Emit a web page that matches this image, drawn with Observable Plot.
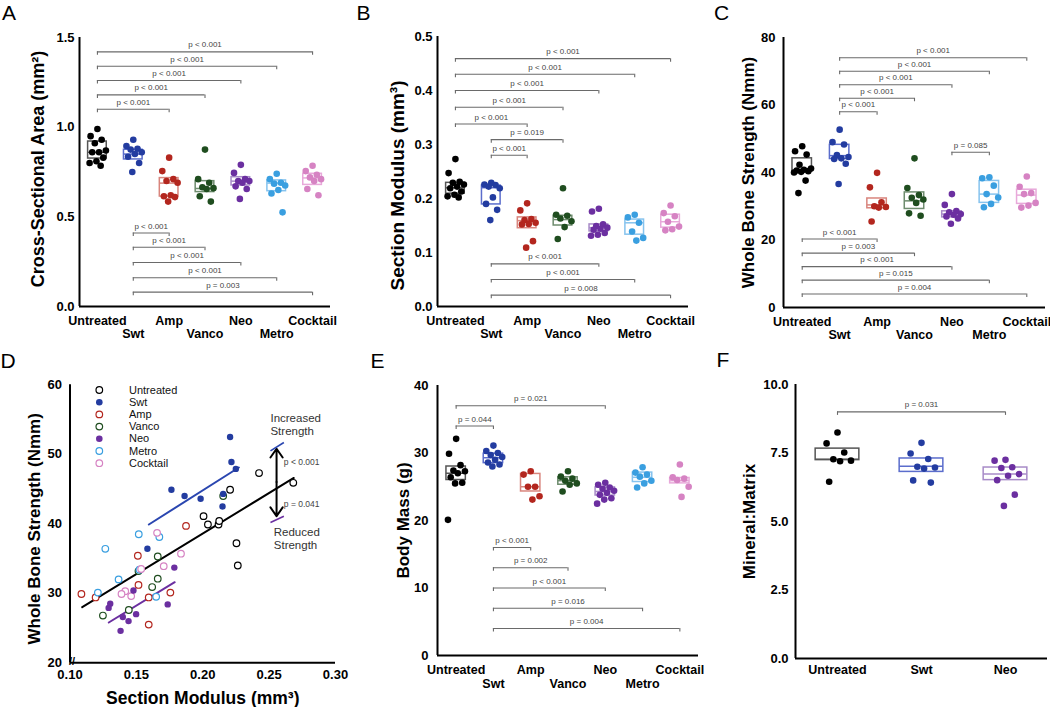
<!DOCTYPE html>
<html><head><meta charset="utf-8">
<script src="https://cdn.jsdelivr.net/npm/d3@7"></script>
<script src="https://cdn.jsdelivr.net/npm/@observablehq/plot@0.6"></script>
<style>
html,body{margin:0;padding:0;background:#fff;}
#fig{position:relative;width:1050px;height:707px;overflow:hidden;font-family:"Liberation Sans",Arial,sans-serif;}
.panel{position:absolute;}
.panel svg{overflow:visible !important;}
.letter{position:absolute;font-size:21px;line-height:21px;color:#000;}
</style></head><body><div id="fig"></div>
<script>
const FONT = '"Liberation Sans", Arial, sans-serif';
const groups = ["Untreated", "Swt", "Amp", "Vanco", "Neo", "Metro", "Cocktail"];
const dotColors = ["#000000", "#233ca0", "#b3261e", "#1f4d1f", "#6b2fa0", "#3a9fe0", "#d683c3"];
const boxColors = ["#555555", "#5b6dcc", "#d9857d", "#6e8c6e", "#a88bc8", "#86c3ee", "#e8a9da"];

// A: Cross-sectional area (mm^2)
const areaValues = [
  [0.99, 0.95, 0.93, 0.91, 0.87, 0.86, 0.86, 0.83, 0.81, 0.80, 0.785],
  [0.93, 0.895, 0.88, 0.875, 0.86, 0.85, 0.835, 0.80, 0.75],
  [0.83, 0.755, 0.71, 0.70, 0.69, 0.62, 0.615, 0.61, 0.585],
  [0.875, 0.71, 0.69, 0.665, 0.66, 0.655, 0.615, 0.585],
  [0.79, 0.745, 0.71, 0.70, 0.70, 0.69, 0.67, 0.655, 0.60],
  [0.74, 0.71, 0.69, 0.685, 0.675, 0.65, 0.63, 0.525],
  [0.785, 0.755, 0.735, 0.72, 0.71, 0.70, 0.655, 0.62]
];
const areaQ1 = [0.825, 0.82, 0.613, 0.638, 0.675, 0.643, 0.678];
const areaMedian = [0.86, 0.85, 0.688, 0.658, 0.699, 0.688, 0.717];
const areaQ3 = [0.92, 0.874, 0.716, 0.699, 0.721, 0.703, 0.74];
const areaBrackets = [
  [0, 6, 1.42, "p < 0.001"], [0, 5, 1.34, "p < 0.001"], [0, 4, 1.26, "p < 0.001"],
  [0, 3, 1.18, "p < 0.001"], [0, 2, 1.10, "p < 0.001"],
  [1, 2, 0.41, "p < 0.001"], [1, 3, 0.33, "p < 0.001"], [1, 4, 0.245, "p < 0.001"],
  [1, 5, 0.16, "p < 0.001"], [1, 6, 0.08, "p = 0.003"]
];

// B: Section modulus (mm^3)
const modulusValues = [
  [0.273, 0.247, 0.231, 0.229, 0.226, 0.222, 0.219, 0.213, 0.207, 0.204, 0.202],
  [0.229, 0.226, 0.225, 0.222, 0.219, 0.202, 0.19, 0.179, 0.16],
  [0.191, 0.178, 0.162, 0.16, 0.155, 0.153, 0.152, 0.121, 0.109],
  [0.219, 0.17, 0.168, 0.163, 0.158, 0.147, 0.125],
  [0.181, 0.176, 0.152, 0.149, 0.146, 0.144, 0.142, 0.136, 0.133, 0.131],
  [0.170, 0.165, 0.155, 0.139, 0.127, 0.122],
  [0.187, 0.173, 0.167, 0.157, 0.148, 0.143, 0.141]
];
const modulusQ1 = [0.209, 0.189, 0.145, 0.150, 0.139, 0.133, 0.146];
const modulusMedian = [0.22, 0.22, 0.159, 0.161, 0.146, 0.155, 0.157];
const modulusQ3 = [0.229, 0.224, 0.165, 0.168, 0.152, 0.161, 0.170];
const modulusBrackets = [
  [0, 6, 0.459, "p < 0.001"], [0, 5, 0.43, "p < 0.001"], [0, 4, 0.40, "p < 0.001"],
  [0, 3, 0.369, "p < 0.001"], [0, 2, 0.338, "p < 0.001"], [1, 3, 0.309, "p = 0.019"],
  [1, 2, 0.28, "p < 0.001"],
  [1, 4, 0.079, "p < 0.001"], [1, 5, 0.05, "p < 0.001"], [1, 6, 0.021, "p = 0.008"]
];

// C: Whole bone strength (Nmm)
const strengthValues = [
  [47.8, 46.3, 45.3, 42.3, 41.2, 40.8, 40.6, 40.4, 40.2, 40.0, 37.6, 33.9],
  [52.7, 49.0, 48.3, 45.2, 44.6, 44.2, 44.0, 42.6, 36.6],
  [39.9, 35.6, 31.2, 30.0, 29.8, 29.6, 25.5],
  [44.2, 35.4, 33.3, 32.5, 32.0, 31.0, 27.9, 27.2],
  [33.6, 30.4, 28.6, 28.2, 27.7, 27.5, 27.0, 26.4, 24.8],
  [38.6, 38.3, 36.1, 33.6, 32.6, 30.7, 29.7],
  [38.8, 35.8, 33.9, 33.6, 31.0, 30.2, 29.6]
];
const strengthQ1 = [40.2, 44.0, 29.4, 29.2, 26.7, 31.0, 30.7];
const strengthMedian = [40.6, 45.0, 30.4, 31.6, 27.7, 33.6, 33.3];
const strengthQ3 = [44.2, 48.2, 32.3, 34.1, 28.5, 37.5, 34.9];
const strengthBrackets = [
  [1, 6, 74, "p < 0.001"], [1, 5, 70, "p < 0.001"], [1, 4, 66, "p < 0.001"],
  [1, 3, 62, "p < 0.001"], [1, 2, 58, "p < 0.001"], [4, 5, 46, "p = 0.085"],
  [0, 2, 20.3, "p < 0.001"], [0, 3, 16.1, "p = 0.003"], [0, 4, 12.1, "p < 0.001"],
  [0, 5, 8.1, "p = 0.015"], [0, 6, 4.0, "p = 0.004"]
];

// D: strength vs section modulus
const scatterModulus = [
  [0.2424, 0.2682, 0.2206, 0.2006, 0.2039, 0.2119, 0.2124, 0.2254, 0.2264],
  [0.2206, 0.2216, 0.2249, 0.1764, 0.1863, 0.1984, 0.2154, 0.2149, 0.1583],
  [0.1874, 0.1511, 0.1516, 0.1086, 0.1193, 0.1593, 0.1756, 0.1593],
  [0.2154, 0.1661, 0.1516, 0.1661, 0.1619, 0.1443, 0.1248],
  [0.1786, 0.1478, 0.1303, 0.1291, 0.1736, 0.1398, 0.1441, 0.1498, 0.1381],
  [0.1518, 0.1673, 0.1266, 0.1523, 0.1366, 0.1210, 0.1649],
  [0.1656, 0.1836, 0.1706, 0.1536, 0.1416, 0.1388, 0.1461]
];
const scatterStrength = [
  [47.3, 45.9, 44.9, 41.1, 39.9, 39.9, 40.4, 37.2, 34.0],
  [52.5, 48.9, 47.9, 44.9, 44.0, 43.6, 44.3, 42.5, 36.4],
  [39.7, 35.4, 31.2, 29.9, 29.4, 29.4, 30.1, 25.5],
  [44.0, 35.3, 33.2, 32.1, 30.9, 27.6, 26.8],
  [33.7, 30.4, 28.5, 27.9, 28.4, 26.6, 26.0, 27.0, 24.6],
  [38.5, 38.1, 36.4, 33.4, 32.0, 30.1, 29.5],
  [38.7, 35.7, 33.9, 33.5, 30.3, 29.9, 29.6]
];
const fitUntreated = [[0.1092, 28.0], [0.2686, 46.6]];
const fitSwt = [[0.1594, 39.9], [0.2272, 48.1]];
const fitNeo = [[0.1292, 25.8], [0.1789, 31.6]];
const filledGroups = ["Swt", "Neo"];

// E: Body mass (g)
const massValues = [
  [32.1, 29.9, 28.2, 27.4, 27.3, 27.0, 26.4, 25.6, 25.5, 20.1],
  [31.1, 30.3, 30.0, 29.7, 29.4, 29.0, 28.6, 28.3, 28.0],
  [27.3, 26.8, 25.0, 25.0, 23.6, 23.1],
  [27.3, 26.5, 26.2, 25.9, 25.5, 25.3, 24.3],
  [25.6, 25.3, 24.9, 24.7, 24.4, 24.1, 23.8, 23.3, 23.1, 22.5],
  [27.9, 27.1, 26.8, 26.5, 25.9, 25.5, 24.9],
  [28.3, 26.4, 26.2, 26.0, 25.0, 23.5]
];
const massQ1 = [26.0, 28.5, 24.3, 25.3, 23.7, 25.7, 25.5];
const massMedian = [27.0, 29.3, 25.0, 25.9, 24.3, 26.4, 25.9];
const massQ3 = [28.0, 29.9, 26.9, 26.4, 24.9, 27.1, 26.3];
const massBrackets = [
  [0, 4, 37, "p = 0.021"], [0, 1, 34, "p = 0.044"],
  [1, 2, 16, "p < 0.001"], [1, 3, 13, "p = 0.002"], [1, 4, 10, "p < 0.001"],
  [1, 5, 7, "p = 0.016"], [1, 6, 4, "p = 0.004"]
];

// F: Mineral:Matrix
const mineralGroups = ["Untreated", "Swt", "Neo"];
const mineralValues = [
  [8.25, 7.85, 7.52, 7.27, 7.22, 7.2, 6.45],
  [7.87, 7.48, 7.28, 7.0, 6.97, 6.93, 6.5, 6.42],
  [7.25, 7.22, 6.98, 6.95, 6.73, 6.67, 6.51, 5.98, 5.57]
];
const mineralQ1 = [7.24, 6.81, 6.51];
const mineralMedian = [7.27, 7.02, 6.73];
const mineralQ3 = [7.66, 7.30, 6.97];
const mineralBrackets = [[0, 2, 9.0, "p = 0.031"]];

// ---------- drawing ----------
const fig = document.getElementById("fig");
function place(node, left, top) {
  const d = document.createElement("div");
  d.className = "panel";
  d.style.left = left + "px"; d.style.top = top + "px";
  d.appendChild(node); fig.appendChild(d);
}
function letter(t, left, top) {
  const d = document.createElement("div");
  d.className = "letter"; d.textContent = t;
  d.style.left = left + "px"; d.style.top = top + "px";
  fig.appendChild(d);
}
function jitter(i, amp) { return (((i * 0.618034 + 0.5) % 1) - 0.5) * 2 * amp; }

function catPanel(c) {
  const n = c.names.length;
  const colorOf = g => groups.indexOf(c.names[g]);
  const pts = [];
  c.values.forEach((vals, g) => vals.forEach((v, i) => pts.push({g, v, x: g + jitter(i, c.amp)})));
  const boxes = c.names.map((_, g) => ({g, q1: c.q1[g], med: c.med[g], q3: c.q3[g]}));
  const br = c.brackets.map(([a, b, y, label]) => ({a, b, y, label}));
  const innerH = c.H - c.mT - c.mB;
  const tick = 3.5 * (c.yDomain[1] - c.yDomain[0]) / innerH;
  const bw = 0.26;
  const idx = d3.range(n);
  const gray = "#6a6a6a";
  const marks = [
    Plot.ruleY(br, {y: "y", x1: "a", x2: "b", stroke: gray, strokeWidth: 1.1}),
    Plot.ruleX(br, {x: "a", y1: "y", y2: d => d.y - tick, stroke: gray, strokeWidth: 1.1}),
    Plot.ruleX(br, {x: "b", y1: "y", y2: d => d.y - tick, stroke: gray, strokeWidth: 1.1}),
    Plot.text(br, {x: d => (d.a + d.b) / 2, y: "y", text: "label", dy: -7, fontSize: 8, fill: "#444"}),
    Plot.rect(boxes, {x1: d => d.g - bw, x2: d => d.g + bw, y1: "q1", y2: "q3", fill: "none",
      stroke: d => boxColors[colorOf(d.g)], strokeWidth: 1.5}),
    Plot.ruleY(boxes, {y: "med", x1: d => d.g - bw, x2: d => d.g + bw,
      stroke: d => boxColors[colorOf(d.g)], strokeWidth: 1.5}),
    Plot.dot(pts, {x: "x", y: "v", r: 3.3, fill: d => dotColors[colorOf(d.g)], stroke: "none"}),
    Plot.ruleX([-0.5], {y1: c.yDomain[0], y2: c.yDomain[1], stroke: "#000", strokeWidth: 2}),
    Plot.ruleY([c.yDomain[0]], {x1: -0.5, x2: n - 0.5, stroke: "#000", strokeWidth: 2}),
    Plot.axisY({ticks: c.yTicks, tickFormat: c.yFormat, tickSize: 0, tickPadding: c.yPad,
      fontSize: 13, fontWeight: "bold", fill: "#000", label: null}),
    Plot.axisX({ticks: n > 3 ? idx.filter(i => i % 2 === 0) : idx, tickFormat: i => c.names[i],
      tickSize: 0, tickPadding: c.pad1, fontSize: 12.5, fontWeight: "bold", fill: "#000", label: null}),
    Plot.text([c.title], {frameAnchor: "left", rotate: -90, dx: c.titleDx, dy: c.titleDy,
      textAnchor: "middle", lineAnchor: "middle", fontSize: c.titleSize, fontWeight: "bold", fill: "#000"})
  ];
  if (n > 3) marks.push(Plot.axisX({ticks: idx.filter(i => i % 2 === 1), tickFormat: i => c.names[i],
      tickSize: 0, tickPadding: c.pad2, fontSize: 12.5, fontWeight: "bold", fill: "#000", label: null}));
  return Plot.plot({
    width: c.W, height: c.H, marginLeft: c.mL, marginRight: c.mR, marginTop: c.mT, marginBottom: c.mB,
    x: {domain: [-0.5, n - 0.5]}, y: {domain: c.yDomain}, color: {type: "identity"},
    style: {fontFamily: FONT, background: "transparent", overflow: "visible", color: "#000"},
    marks
  });
}

const f1 = d3.format(".1f");
place(catPanel({names: groups, values: areaValues, q1: areaQ1, med: areaMedian, q3: areaQ3,
  brackets: areaBrackets, yDomain: [0, 1.5], yTicks: [0, 0.5, 1.0, 1.5], yFormat: f1,
  title: "Cross-Sectional Area (mm²)", titleSize: 18, titleDx: -41, titleDy: -3,
  W: 350, H: 345, mL: 79, mR: 20, mT: 37, mB: 39, amp: 0.25, pad1: 9.5, pad2: 22.5, yPad: 5}), 0, 0);

place(catPanel({names: groups, values: modulusValues, q1: modulusQ1, med: modulusMedian, q3: modulusQ3,
  brackets: modulusBrackets, yDomain: [0, 0.5], yTicks: [0, 0.1, 0.2, 0.3, 0.4, 0.5], yFormat: f1,
  title: "Section Modulus (mm³)", titleSize: 19, titleDx: -40, titleDy: 14,
  W: 350, H: 345, mL: 87, mR: 12, mT: 36, mB: 39, amp: 0.25, pad1: 9.5, pad2: 22.5, yPad: 5}), 350, 0);

place(catPanel({names: groups, values: strengthValues, q1: strengthQ1, med: strengthMedian, q3: strengthQ3,
  brackets: strengthBrackets, yDomain: [0, 80], yTicks: [0, 20, 40, 60, 80], yFormat: d3.format("d"),
  title: "Whole Bone Strength (Nmm)", titleSize: 17, titleDx: -35, titleDy: 0,
  W: 350, H: 345, mL: 83, mR: 5, mT: 37, mB: 38, amp: 0.25, pad1: 9.5, pad2: 22.5, yPad: 8}), 700, 0);

// D scatter
(function () {
  const pts = [];
  scatterModulus.forEach((xs, g) => xs.forEach((x, i) => pts.push({g, x, y: scatterStrength[g][i]})));
  const isFilled = g => filledGroups.includes(groups[g]);
  const blue = "#2a46b0", purple = "#6b2fa0";
  const fits = [
    {pts: fitUntreated, color: "#000"}, {pts: fitSwt, color: blue}, {pts: fitNeo, color: purple}
  ];
  const ann = {x: 0.2556, mid: 46, top: 50.8, bot: 41.1};
  const marks = [
    ...fits.map(f => Plot.line(f.pts, {x: d => d[0], y: d => d[1], stroke: f.color, strokeWidth: 2})),
    Plot.dot(pts.filter(d => !isFilled(d.g)), {x: "x", y: "y", r: 3.3, fill: "white",
      stroke: d => dotColors[d.g], strokeWidth: 1.2}),
    Plot.dot(pts.filter(d => isFilled(d.g)), {x: "x", y: "y", r: 3.2, fill: d => dotColors[d.g], stroke: "none"}),
    Plot.arrow([{y1: ann.mid, y2: ann.top}, {y1: ann.mid, y2: ann.bot}], {x1: ann.x, x2: ann.x, y1: "y1", y2: "y2",
      stroke: "#000", strokeWidth: 2, headLength: 8, headAngle: 70}),
    Plot.link([{x1: 0.2510, y1: 50.5, x2: 0.2611, y2: 51.7}], {x1: "x1", y1: "y1", x2: "x2", y2: "y2", stroke: blue, strokeWidth: 1.6}),
    Plot.link([{x1: 0.2510, y1: 40.2, x2: 0.2611, y2: 41.1}], {x1: "x1", y1: "y1", x2: "x2", y2: "y2", stroke: purple, strokeWidth: 1.6}),
    Plot.text(["Increased\nStrength"], {x: 0.2510, y: 54.3, text: d => d, textAnchor: "start", lineAnchor: "middle",
      lineHeight: 1.17, fontSize: 11.5, fill: "#333"}),
    Plot.text(["Reduced\nStrength"], {x: 0.2535, y: 37.95, text: d => d, textAnchor: "start", lineAnchor: "middle",
      lineHeight: 1.17, fontSize: 11.5, fill: "#333"}),
    Plot.text(["p < 0.001"], {x: 0.2611, y: 48.8, text: d => d, textAnchor: "start", fontSize: 8.5, fill: "#444"}),
    Plot.text(["p = 0.041"], {x: 0.2611, y: 42.8, text: d => d, textAnchor: "start", fontSize: 8.5, fill: "#444"}),
    Plot.ruleX([0.1], {y1: 20, y2: 60, stroke: "#000", strokeWidth: 2}),
    Plot.ruleY([20], {x1: 0.1, x2: 0.3, stroke: "#000", strokeWidth: 2}),
    Plot.text(["//"], {x: 0.1, y: 20, text: d => d, dx: 2, dy: -1, fontSize: 11, fontWeight: "bold", fill: "#000"}),
    Plot.axisY({ticks: [20, 30, 40, 50, 60], tickSize: 0, tickPadding: 8, fontSize: 13, fontWeight: "bold", fill: "#000", label: null}),
    Plot.axisX({ticks: [0.1, 0.15, 0.2, 0.25, 0.3], tickFormat: d3.format(".2f"), tickSize: 0, tickPadding: 7,
      fontSize: 13, fontWeight: "bold", fill: "#000", label: null}),
    Plot.text(["Whole Bone Strength (Nmm)"], {frameAnchor: "left", rotate: -90, dx: -35, dy: 5,
      textAnchor: "middle", lineAnchor: "middle", fontSize: 17, fontWeight: "bold", fill: "#000"}),
    Plot.text(["Section Modulus (mm³)"], {frameAnchor: "bottom", dy: 36, textAnchor: "middle", lineAnchor: "middle",
      fontSize: 17.5, fontWeight: "bold", fill: "#000"})
  ];
  groups.forEach((name, g) => {
    const dy = 5.2 + 12.2 * g;
    marks.push(Plot.dot([name], {frameAnchor: "top-left", dx: 29.3, dy, r: 3.3,
      fill: isFilled(g) ? dotColors[g] : "white", stroke: isFilled(g) ? "none" : dotColors[g], strokeWidth: 1.2}));
    marks.push(Plot.text([name], {frameAnchor: "top-left", dx: 59, dy, text: d => d, textAnchor: "start",
      lineAnchor: "middle", fontSize: 11, fill: "#111"}));
  });
  place(Plot.plot({
    width: 350, height: 367, marginLeft: 69.5, marginRight: 15, marginTop: 44.3, marginBottom: 44.7,
    x: {domain: [0.1, 0.3]}, y: {domain: [20, 60]}, color: {type: "identity"},
    style: {fontFamily: FONT, background: "transparent", overflow: "visible", color: "#000"},
    marks
  }), 0, 340);
})();

place(catPanel({names: groups, values: massValues, q1: massQ1, med: massMedian, q3: massQ3,
  brackets: massBrackets, yDomain: [0, 40], yTicks: [0, 10, 20, 30, 40], yFormat: d3.format("d"),
  title: "Body Mass (g)", titleSize: 17, titleDx: -34, titleDy: 0,
  W: 350, H: 367, mL: 87, mR: 2, mT: 45, mB: 52, amp: 0.25, pad1: 9.5, pad2: 23.5, yPad: 9}), 350, 340);

place(catPanel({names: mineralGroups, values: mineralValues, q1: mineralQ1, med: mineralMedian, q3: mineralQ3,
  brackets: mineralBrackets, yDomain: [0, 10], yTicks: [0, 2.5, 5, 7.5, 10], yFormat: f1,
  title: "Mineral:Matrix", titleSize: 17, titleDx: -46, titleDy: 0,
  W: 350, H: 367, mL: 95, mR: 3, mT: 44, mB: 49, amp: 0.17, pad1: 7, pad2: 7, yPad: 7}), 700, 340);

letter("A", 2, 2); letter("B", 356.5, 2); letter("C", 714, 2);
letter("D", 0.5, 350); letter("E", 370.5, 350); letter("F", 716.5, 349);
</script></body></html>
